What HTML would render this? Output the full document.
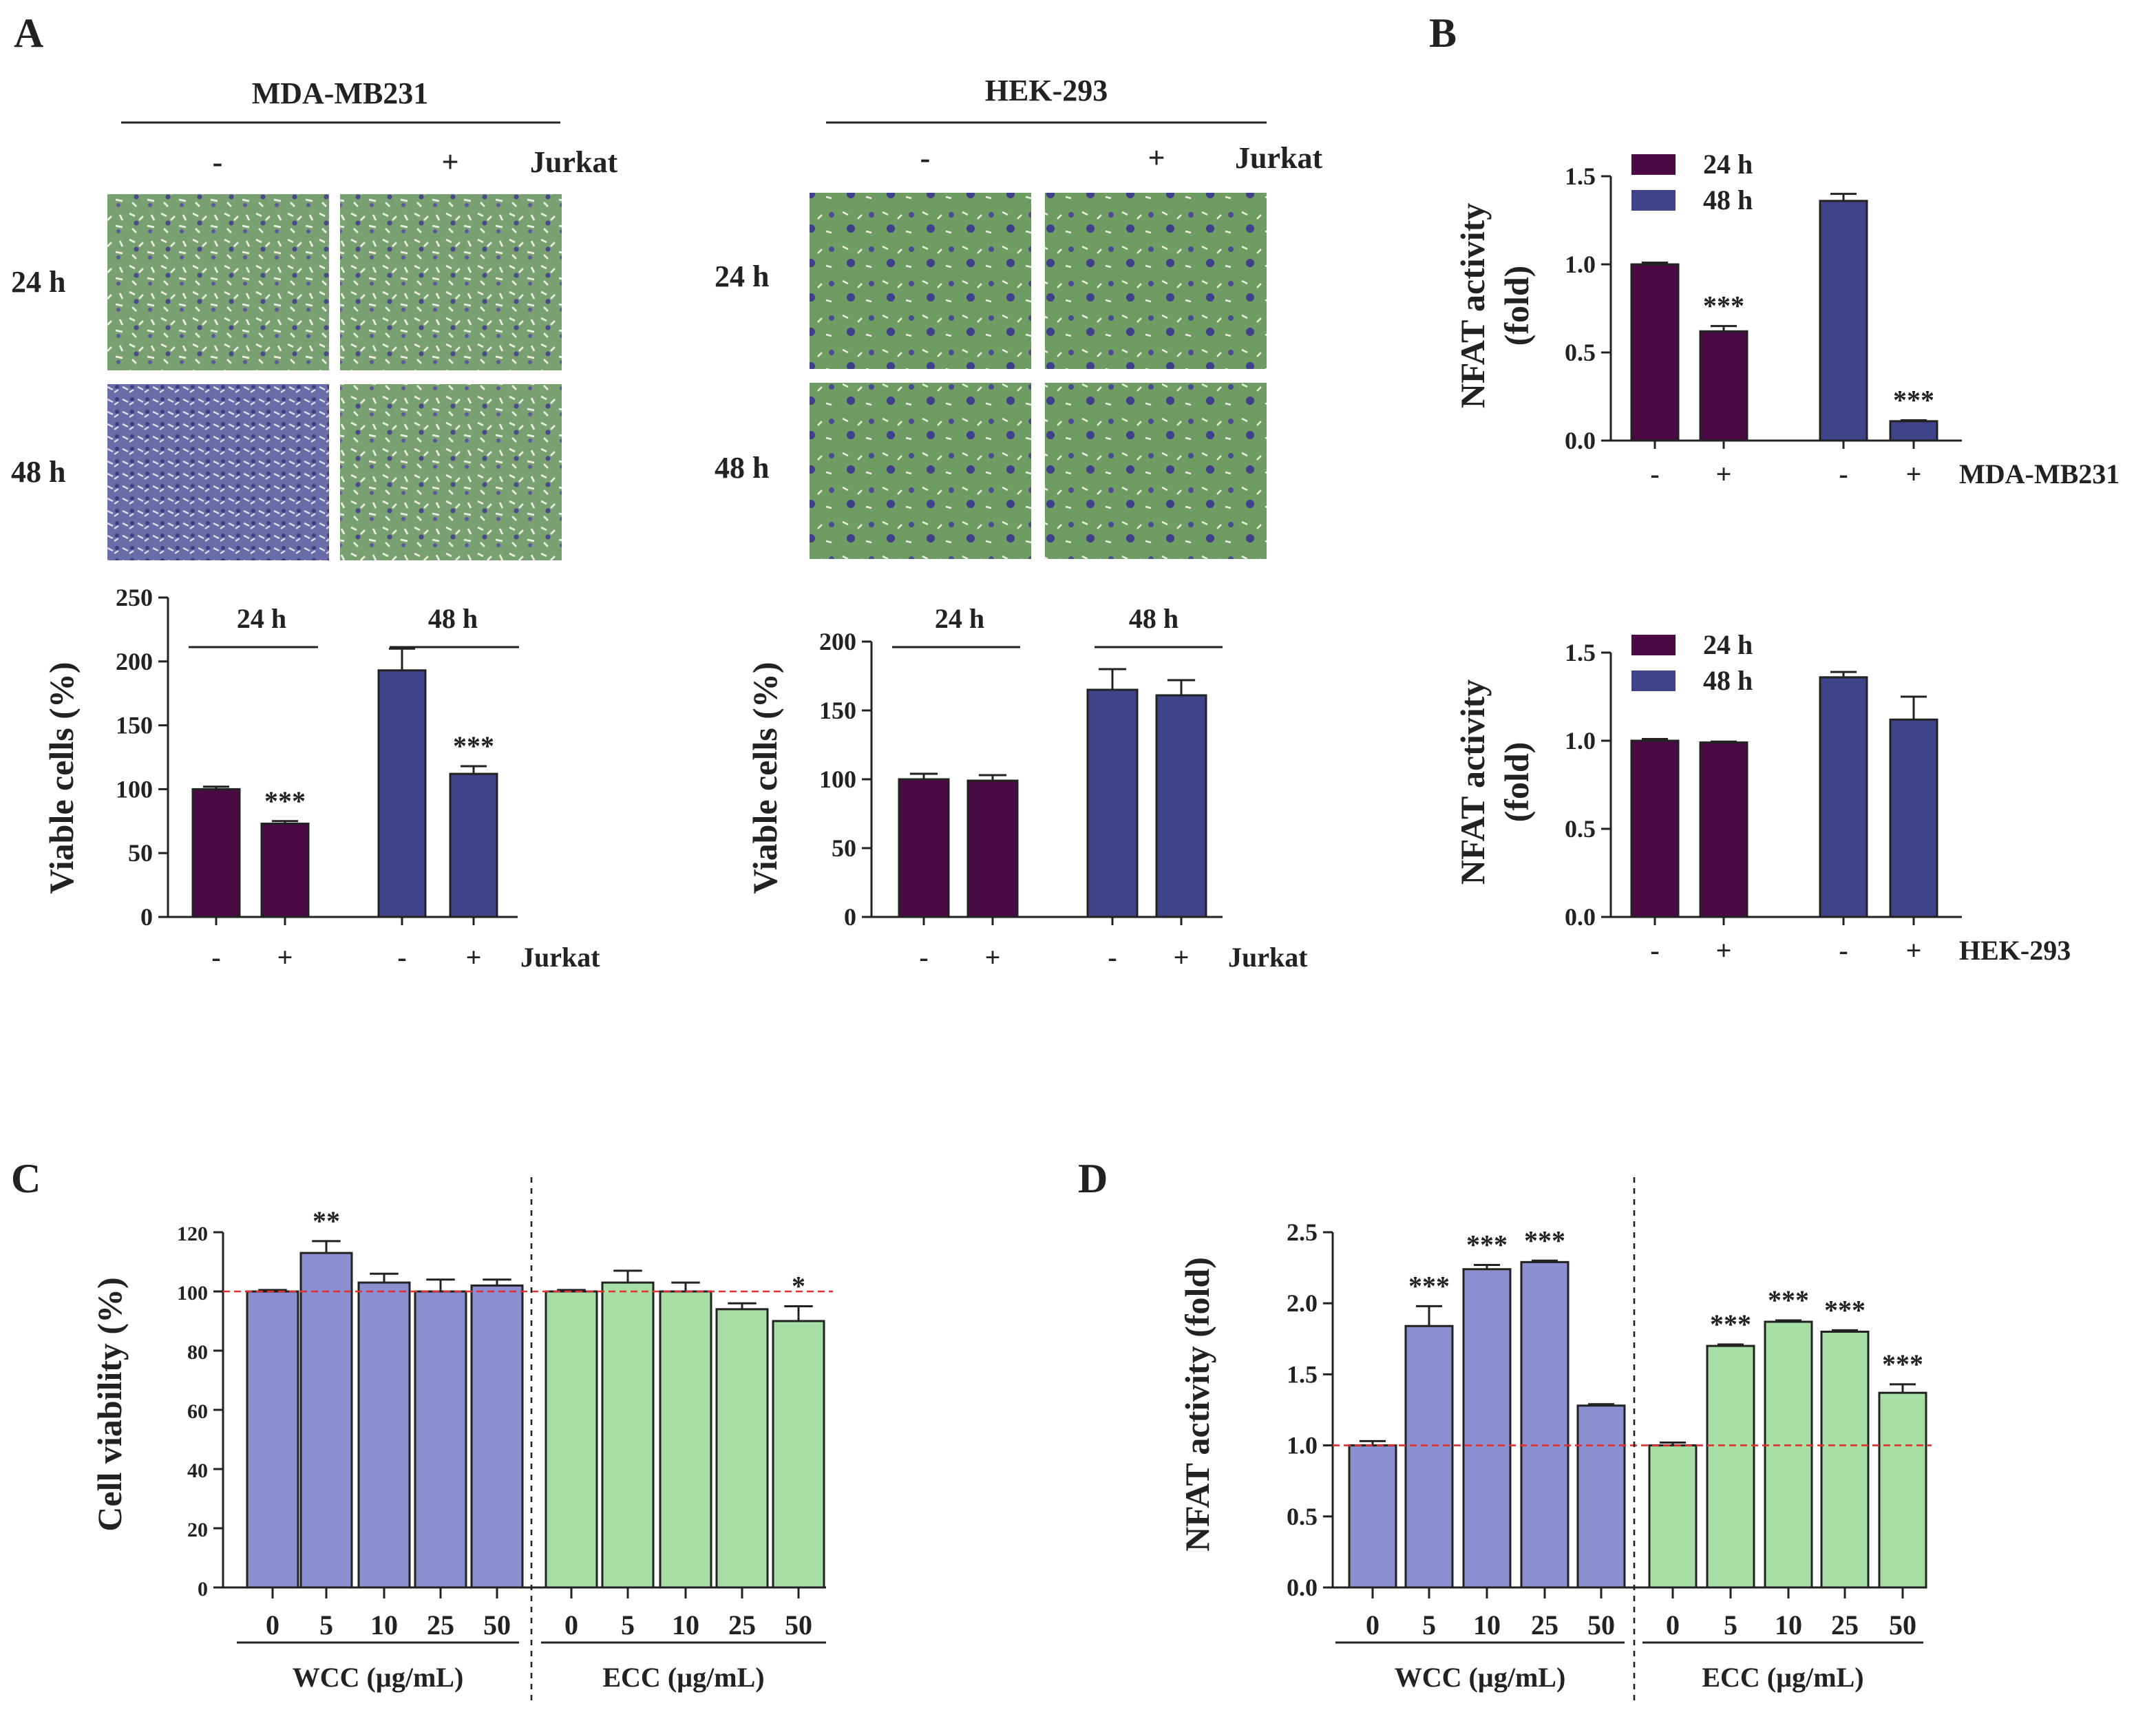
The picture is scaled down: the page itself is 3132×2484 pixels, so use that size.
<!DOCTYPE html>
<html><head><meta charset="utf-8"><style>
html,body{margin:0;padding:0;background:#fff}
svg{display:block}
text{font-family:"Liberation Serif",serif;font-weight:bold;fill:#222}
</style></head><body>
<svg id="fig" width="3132" height="2484" viewBox="0 0 1566 1242" xmlns="http://www.w3.org/2000/svg">
<defs>
<pattern id="cells" width="23" height="19" patternUnits="userSpaceOnUse">
<rect width="23" height="19" fill="#78a070"/>
<path d="M2 3l4 2M9 8l3-3M15 12l5 1M4 14l3 3M18 4l2 4" stroke="#e8eee0" stroke-width="1.4"/>
<circle cx="7" cy="10" r="1.8" fill="#4a4a8a"/><circle cx="17" cy="16" r="1.5" fill="#5a5a9a"/>
</pattern>
<pattern id="cellsDense" width="11" height="9" patternUnits="userSpaceOnUse">
<rect width="11" height="9" fill="#6a6ca8"/>
<path d="M1 2l4 2M6 6l3-2" stroke="#d8dce8" stroke-width="1.2"/>
<circle cx="8" cy="2" r="1.5" fill="#3c3c80"/>
</pattern>
<pattern id="cellsHek" width="29" height="25" patternUnits="userSpaceOnUse">
<rect width="29" height="25" fill="#6f9c62"/>
<path d="M3 4l4 2M14 9l3-3M20 18l4 1" stroke="#e8efe0" stroke-width="1.3"/>
<circle cx="9" cy="16" r="3" fill="#3f3f8a"/><circle cx="24" cy="6" r="2" fill="#4a4a90"/>
</pattern>
</defs>
<g id="root"></g>
</svg>
<script>
// ===== Data =====
const a1Cats = ['-','+','-','+'];
const a1Vals = [100, 73, 193, 112];
const a1Errs = [2, 2, 17, 6];
const a1Ticks = [0,50,100,150,200,250];
const a2Vals = [100, 99, 165, 161];
const a2Errs = [4, 4, 15, 11];
const a2Ticks = [0,50,100,150,200];
const b1Vals = [1.0, 0.62, 1.36, 0.11];
const b1Errs = [0.01, 0.03, 0.04, 0.005];
const b2Vals = [1.0, 0.99, 1.36, 1.12];
const b2Errs = [0.01, 0.005, 0.03, 0.13];
const bTicks = ['0.0','0.5','1.0','1.5'];
const doseCats = ['0','5','10','25','50'];
const cWcc = [100, 113, 103, 100, 102];
const cWccErr = [0.5, 4, 3, 4, 2];
const cEcc = [100, 103, 100, 94, 90];
const cEccErr = [0.5, 4, 3, 2, 5];
const cTicks = [0,20,40,60,80,100,120];
const dWcc = [1.0, 1.84, 2.24, 2.29, 1.28];
const dWccErr = [0.03, 0.14, 0.03, 0.01, 0.01];
const dEcc = [1.0, 1.70, 1.87, 1.80, 1.37];
const dEccErr = [0.02, 0.01, 0.01, 0.01, 0.06];
const dTicks = ['0.0','0.5','1.0','1.5','2.0','2.5'];
const cStars = ['', '**', '', '', '', '', '', '', '', '*'];
const dStars = ['', '***', '***', '***', '', '', '***', '***', '***', '***'];

const NS='http://www.w3.org/2000/svg';
const root=document.getElementById('root');
function el(tag, attrs, parent, txt){
  const e=document.createElementNS(NS,tag);
  for(const k in attrs) e.setAttribute(k, attrs[k]);
  if(txt!==undefined) e.textContent=txt;
  (parent||root).appendChild(e); return e;
}
function T(x,y,s,size,anchor,name,extra){
  const t=el('text',Object.assign({x:x,y:y,'font-size':size,'text-anchor':anchor||'middle'},extra||{}),root,s);
  
  
  return t;
}
function L(x1,y1,x2,y2,name,w,extra){
  const l=el('line',Object.assign({x1:x1,y1:y1,x2:x2,y2:y2,stroke:'#222','stroke-width':w||1.5},extra||{}));
  
  
  return l;
}
const PURPLE='#4a0a44', BLUE='#3f4488', BLUEL='#8b8fd0', GREENL='#a7dea6';

// ===== Panel A micrographs =====
T(10,34,'A',30,'start','panel-a-label');
T(10+840*1.2,34,'B',30,'start','panel-b-label').setAttribute('x',1038);
T(247,75,'MDA-MB231',22,'middle','mda-title');
L(88,89,407,89,'mda-title-rule');
T(158,125,'-',22,'middle','mda-minus');T(327,125,'+',22,'middle','mda-plus');
T(385,125,'Jurkat',22,'start','mda-jurkat');
T(8,212,'24 h',22,'start','mda-24h');T(8,350,'48 h',22,'start','mda-48h');
T(760,73,'HEK-293',22,'middle','hek-title');
L(600,89,920,89,'hek-title-rule');
T(672,122,'-',22,'middle','hek-minus');T(840,122,'+',22,'middle','hek-plus');
T(897,122,'Jurkat',22,'start','hek-jurkat');
T(519,208,'24 h',22,'start','hek-24h');T(519,347,'48 h',22,'start','hek-48h');
const imgs=[[78,141,'mda-24h-minus','cells'],[247,141,'mda-24h-plus','cells'],[78,279,'mda-48h-minus','cellsDense'],[247,279,'mda-48h-plus','cells'],
 [588,140,'hek-24h-minus','cellsHek'],[759,140,'hek-24h-plus','cellsHek'],[588,278,'hek-48h-minus','cellsHek'],[759,278,'hek-48h-plus','cellsHek']];
imgs.forEach(m=>{const r=el('rect',{x:m[0],y:m[1],width:161,height:128,fill:'url(#'+m[3]+')'});
 
 });

// ===== Generic bar chart =====
function axisY(ax, y0, yTop, vmax, ticks, tickVals, name, fs){
  L(ax,y0,ax,yTop,name+'-y-axis');
  ticks.forEach((t,i)=>{const v=tickVals[i];const y=y0-(v/vmax)*(y0-yTop);
    L(ax-7,y,ax,y,name+'-y-tick');T(ax-11,y+6,t,fs||18,'end',name+'-y-tick-label');});
}
function bars(name, xs, w, vals, errs, fills, y0, yTop, vmax, stars){
  const sy=v=>y0-(v/vmax)*(y0-yTop);
  vals.forEach((v,i)=>{
    const r=el('rect',{x:xs[i]-w/2,y:sy(v),width:w,height:y0-sy(v),fill:fills[i],stroke:'#222','stroke-width':1.5});
    
    
    const ye=sy(v+errs[i]);
    L(xs[i],sy(v),xs[i],ye,name+'-error-bar');L(xs[i]-w*0.28,ye,xs[i]+w*0.28,ye,name+'-error-cap');
    if(stars&&stars[i]) T(xs[i],ye-8,stars[i],20,'middle',name+'-significance');
  });
}
// A1
(function(){const y0=666,yT=434,vm=250,xs=[157,207,292,344];
 axisY(122,y0,yT,vm,a1Ticks.map(String),a1Ticks,'a1',18);
 L(122,y0,376,y0,'a1-x-axis');
 bars('a1',xs,34,a1Vals,a1Errs,[PURPLE,PURPLE,BLUE,BLUE],y0,yT,vm,['','***','','***']);
 xs.forEach((x,i)=>{L(x,y0,x,y0+6,'a1-x-tick');T(x,702,a1Cats[i],20,'middle','a1-x-label');});
 T(378,702,'Jurkat',20,'start','a1-jurkat');
 T(190,456,'24 h',20,'middle','a1-group-24h');L(137,470,231,470,'a1-group-rule');
 T(329,456,'48 h',20,'middle','a1-group-48h');L(283,470,377,470,'a1-group-rule');
 T(0,0,'Viable cells (%)',25,'middle','a1-y-title',{transform:'translate(53,565) rotate(-90)'});
})();
// A2
(function(){const y0=666,yT=466,vm=200,xs=[671,721,808,858];
 axisY(633,y0,yT,vm,a2Ticks.map(String),a2Ticks,'a2',18);
 L(633,y0,888,y0,'a2-x-axis');
 bars('a2',xs,36,a2Vals,a2Errs,[PURPLE,PURPLE,BLUE,BLUE],y0,yT,vm);
 xs.forEach((x,i)=>{L(x,y0,x,y0+6,'a2-x-tick');T(x,702,a1Cats[i],20,'middle','a2-x-label');});
 T(892,702,'Jurkat',20,'start','a2-jurkat');
 T(697,456,'24 h',20,'middle','a2-group-24h');L(648,470,741,470,'a2-group-rule');
 T(838,456,'48 h',20,'middle','a2-group-48h');L(795,470,888,470,'a2-group-rule');
 T(0,0,'Viable cells (%)',25,'middle','a2-y-title',{transform:'translate(564,565) rotate(-90)'});
})();
// B charts
function bChart(name,y0,vals,errs,lab,legY,stars){
  const yT=y0-192,vm=1.5,xs=[1202,1252,1339,1390];
  axisY(1170,y0,yT,vm,bTicks,[0,0.5,1,1.5],name,18);
  L(1170,y0,1425,y0,name+'-x-axis');
  bars(name,xs,34,vals,errs,[PURPLE,PURPLE,BLUE,BLUE],y0,yT,vm,stars);
  xs.forEach((x,i)=>{L(x,y0,x,y0+6,name+'-x-tick');T(x,y0+31,a1Cats[i],20,'middle',name+'-x-label');});
  T(1423,y0+31,lab,20,'start',name+'-cell-label');
  [['24 h',PURPLE],['48 h',BLUE]].forEach((g,i)=>{
    const r=el('rect',{x:1185,y:legY+i*26,width:32,height:15,fill:g[1]});
    
    
    T(1237,legY+i*26+14,g[0],20,'start',name+'-legend-entry');});
  T(0,0,'NFAT activity',25,'middle',name+'-y-title',{transform:'translate(1078,'+(y0-98)+') rotate(-90)'});
  T(0,0,'(fold)',25,'middle',name+'-y-title-unit',{transform:'translate(1110,'+(y0-98)+') rotate(-90)'});
}
bChart('b1',320,b1Vals,b1Errs,'MDA-MB231',112,['','***','','***']);
bChart('b2',666,b2Vals,b2Errs,'HEK-293',461);

// C and D
function doseChart(name,ax,y0,yT,vm,tickLabels,tickVals,wcc,wErr,ecc,eErr,xs,xEnd,vline,grp,stars,title,titleX,bw,red){
  axisY(ax,y0,yT,vm,tickLabels,tickVals,name,name==='c'?15:18);
  L(ax,y0,xEnd,y0,name+'-x-axis');
  const all=wcc.concat(ecc),errs=wErr.concat(eErr);
  const fills=all.map((v,i)=>i<5?BLUEL:GREENL);
  bars(name,xs,bw,all,errs,fills,y0,yT,vm,stars);
  const ry=y0-(red/vm)*(y0-yT);
  L(ax,ry,xEnd+5,ry,name+'-reference-line',1.3,{stroke:'#e03030','stroke-dasharray':'5,3'});
  L(vline,855,vline,1235,name+'-divider',1.3,{'stroke-dasharray':'4,4'});
  xs.forEach((x,i)=>{L(x,y0,x,y0+8,name+'-x-tick');T(x,1187,doseCats[i%5],20,'middle',name+'-x-label');});
  L(grp[0],1193,grp[1],1193,name+'-wcc-rule');L(grp[2],1193,grp[3],1193,name+'-ecc-rule');
  T((grp[0]+grp[1])/2,1225,'WCC (µg/mL)',20,'middle',name+'-wcc-label');
  T((grp[2]+grp[3])/2,1225,'ECC (µg/mL)',20,'middle',name+'-ecc-label');
  T(0,0,title,25,'middle',name+'-y-title',{transform:'translate('+titleX+',1020) rotate(-90)'});
}
T(8,866,'C',30,'start','panel-c-label');
T(783,866,'D',30,'start','panel-d-label');
doseChart('c',162,1153,895,120,cTicks.map(String),cTicks,cWcc,cWccErr,cEcc,cEccErr,
  [198,237,279,320,361,415,456,498,539,580],600,386,[172,377,393,600],cStars,'Cell viability (%)',88,37,100);
doseChart('d',968,1153,895,2.5,dTicks,[0,0.5,1,1.5,2,2.5],dWcc,dWccErr,dEcc,dEccErr,
  [997,1038,1080,1122,1163,1215,1257,1299,1340,1382],1398,1187,[970,1180,1193,1397],dStars,'NFAT activity (fold)',878,34,1.0);
</script>
</body></html>
